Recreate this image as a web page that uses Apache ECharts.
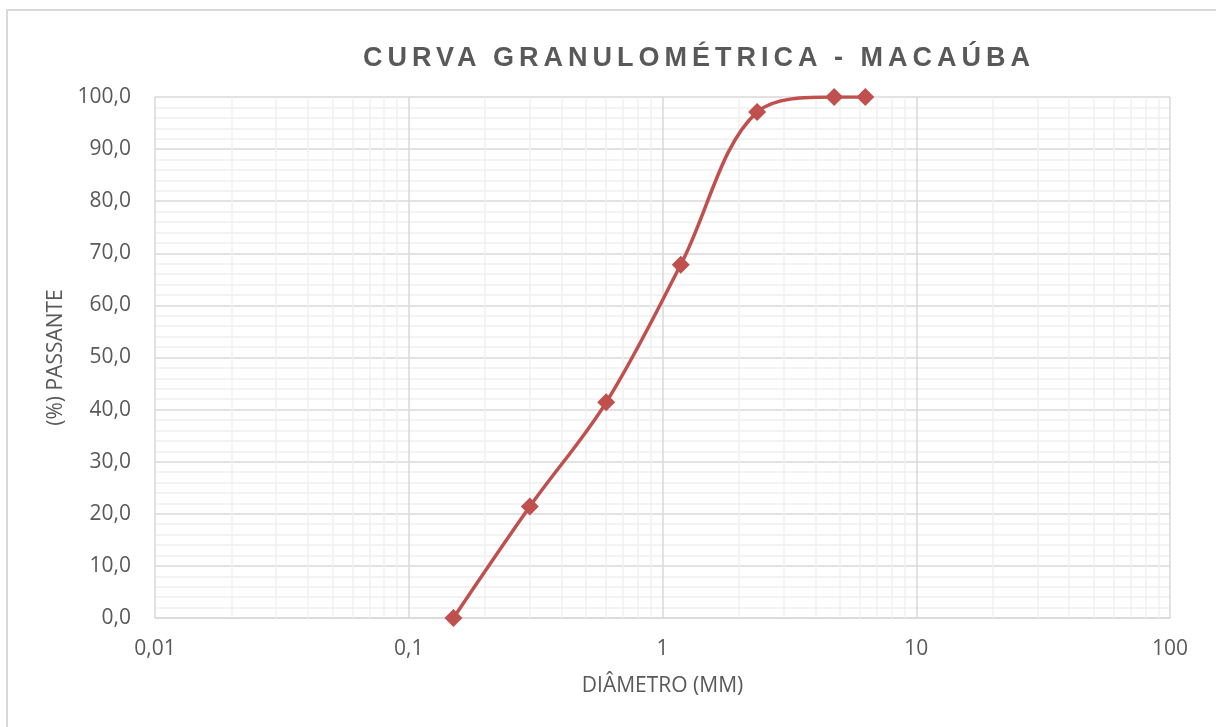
<!DOCTYPE html>
<html>
<head>
<meta charset="utf-8">
<script src="https://cdn.jsdelivr.net/npm/echarts@6/dist/echarts.min.js"></script>
<style>
  html, body { margin: 0; padding: 0; background: #fff; overflow: hidden; }
  #frame { position: absolute; left: 6px; top: 9px; width: 1230px; height: 740px; border: 2px solid #d9d9d9; }
  #title { position: absolute; left: 0; top: 42px; width: 1216px; text-align: center; padding-left: 182px; box-sizing: border-box;
           font-family: "Liberation Sans", Arial, sans-serif; font-weight: bold; font-size: 27px; letter-spacing: 5px; color: #595959; }
  #chart { position: absolute; left: 0; top: 0; width: 1216px; height: 727px; }
</style>
</head>
<body>
<div id="frame"></div>
<div id="chart"></div>
<div id="title">CURVA GRANULOMÉTRICA - MACAÚBA</div>
<script>
document.addEventListener('DOMContentLoaded', function () {
    // diâmetro das peneiras (mm) e % passante
    const diametros = [0.15, 0.3, 0.6, 1.18, 2.36, 4.75, 6.3];
    const passante = [0, 21.4, 41.4, 67.8, 97.1, 100, 100];

    // linhas secundárias do eixo log (2..9 em cada década)
    const decadas = [0.01, 0.1, 1, 10];
    const multiplos = [2, 3, 4, 5, 6, 7, 8, 9];
    const linhasMenores = [];
    decadas.forEach(function (d) {
        multiplos.forEach(function (m) {
            linhasMenores.push({ xAxis: Number((d * m).toPrecision(3)) });
        });
    });

    const fonte = '"Open Sans", "Noto Sans", sans-serif';
    const chart = echarts.init(document.getElementById('chart'));
    const options = {
        animation: false,
        grid: { left: 155, right: 46, top: 97, bottom: 109 },
        xAxis: {
            type: 'log',
            logBase: 10,
            min: 0.01,
            max: 100,
            name: 'DIÂMETRO (MM)',
            nameLocation: 'middle',
            nameGap: 58,
            nameTextStyle: { color: '#595959', fontSize: 21, fontFamily: fonte },
            axisLine: { show: true, lineStyle: { color: '#d9d9d9', width: 1.5 } },
            axisTick: { show: false },
            axisLabel: {
                color: '#595959', fontSize: 21, fontFamily: fonte, margin: 21,
                formatter: function (v) { return String(Number(v.toPrecision(3))).replace('.', ','); }
            },
            splitLine: { show: true, lineStyle: { color: '#d9d9d9', width: 1.5 } }
        },
        yAxis: {
            type: 'value',
            min: 0,
            max: 100,
            interval: 10,
            name: '(%) PASSANTE',
            nameLocation: 'middle',
            nameGap: 86,
            nameTextStyle: { color: '#595959', fontSize: 21, fontFamily: fonte },
            axisLine: { show: false },
            axisTick: { show: false },
            axisLabel: {
                color: '#595959', fontSize: 21, fontFamily: fonte, margin: 24,
                formatter: function (v) { return v.toFixed(1).replace('.', ','); }
            },
            splitLine: { show: true, lineStyle: { color: '#d9d9d9', width: 1.5 } },
            minorTick: { show: false, splitNumber: 5 },
            minorSplitLine: { show: true, lineStyle: { color: '#f0f0f0', width: 1.5 } }
        },
        series: [
            {
                type: 'line',
                data: [],
                silent: true,
                z: 1,
                markLine: {
                    silent: true,
                    symbol: 'none',
                    label: { show: false },
                    lineStyle: { type: 'solid', color: '#f0f0f0', width: 1.5 },
                    data: linhasMenores
                }
            },
            {
                name: 'Macaúba',
                type: 'line',
                zlevel: 1,
                smooth: 0.35,
                data: diametros.map(function (d, i) { return [d, passante[i]]; }),
                symbol: 'diamond',
                symbolSize: 18,
                itemStyle: { color: '#C0504D' },
                lineStyle: { color: '#C0504D', width: 3.5 }
            }
        ]
    };
    chart.setOption(options);
});
</script>
</body>
</html>
